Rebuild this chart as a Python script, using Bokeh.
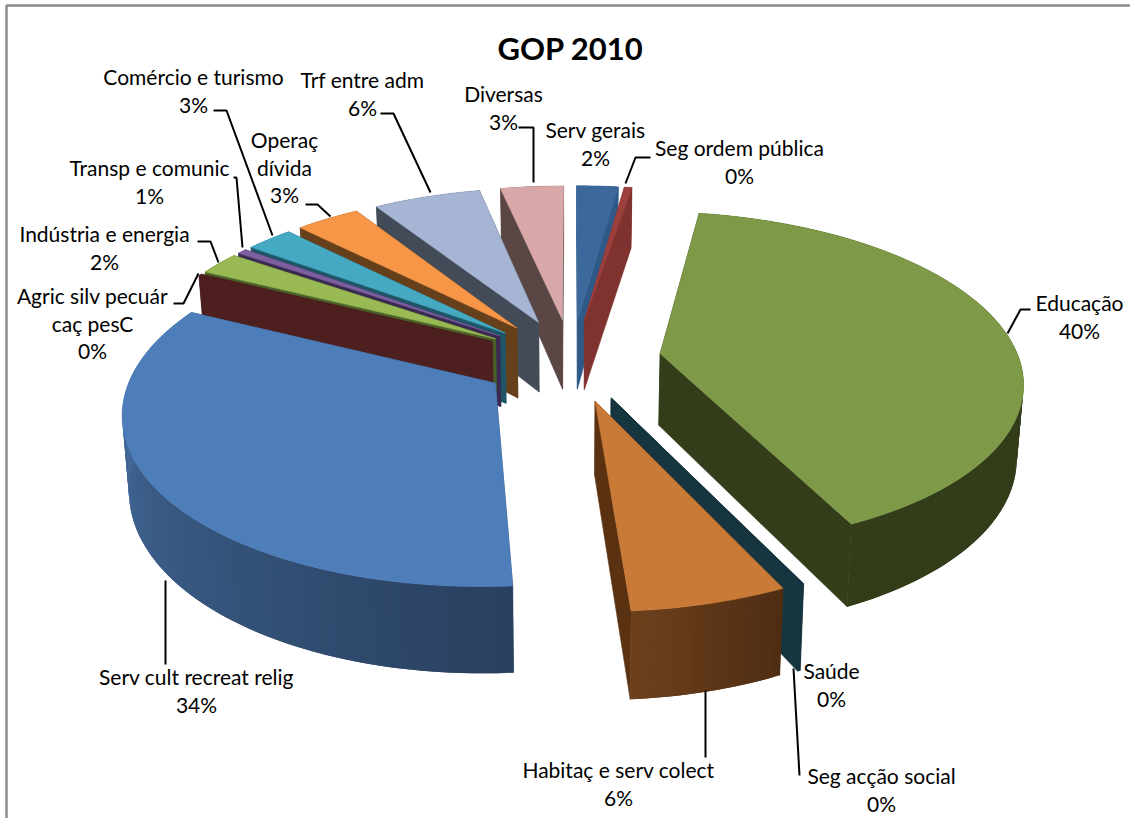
import math
from bokeh.plotting import figure
from bokeh.embed import file_html
from bokeh.resources import INLINE
from bokeh.core.properties import value

# ---------- data ----------
categories = ["Serv gerais", "Seg ordem pública", "Educação", "Saúde", "Seg acção social",
              "Habitaç e serv colect", "Serv cult recreat relig", "Agric silv pecuár caç pesC",
              "Indústria e energia", "Transp e comunic", "Comércio e turismo",
              "Operaç dívida", "Trf entre adm", "Diversas"]
values = [2.2, 0.4, 40.5, 0.05, 0.05, 5.85, 33.5, 0.2, 2.2, 0.5, 2.5, 3.4, 5.7, 3.35]
percent_labels = ["2%", "0%", "40%", "0%", "0%", "6%", "34%", "0%", "2%", "1%", "3%", "3%", "6%", "3%"]
title = "GOP 2010"

# ---------- styles ----------
top_colors = ["#3c689c", "#9c3f3d", "#7e9a48", "#17353f", "#17353f", "#c97a37", "#4e7eba",
              "#4d1f1e", "#98b954", "#7d5fa0", "#46a9c2", "#f79646", "#a5b5d3", "#d8a8a8"]
face_colors = ["#2f5a88", "#7f3230", "#333d1a", "#17353f", "#17353f", "#5a3212", "#2f4d75",
               "#4d1f1e", "#4b5f28", "#3a2a52", "#1f5566", "#65401a", "#434b58", "#5a4745"]
wall_start = ["#2f5a88", "#7f3230", "#333d1a", "#17353f", "#17353f", "#4f2d13", "#29405f",
              "#4d1f1e", "#4b5f28", "#3a2a52", "#1f5566", "#65401a", "#434b58", "#5a4745"]
wall_end = ["#2f5a88", "#7f3230", "#333d1a", "#17353f", "#17353f", "#6e411d", "#4b76ab",
            "#4d1f1e", "#4b5f28", "#3a2a52", "#1f5566", "#65401a", "#434b58", "#5a4745"]

X0, Y0 = 571, 359      # ground origin on screen
R = 359                # pie radius
E = 90                 # explosion of every slice
TILT = 165 / R         # vertical squash
K = 0.15 / R           # perspective strength
D = 72                 # wall height
LEAN = 0.015           # convergence of verticals
FONT = "Lato"
FS = "21px"


def project(x, y, bottom=False):
    s = 1 / (1 + K * y)
    if bottom:
        return X0 + x * s * (1 - LEAN), Y0 - y * TILT * s + D * s
    return X0 + x * s, Y0 - y * TILT * s


def mix(c1, c2, t):
    a = [int(c1[i:i + 2], 16) for i in (1, 3, 5)]
    b = [int(c2[i:i + 2], 16) for i in (1, 3, 5)]
    return "#%02x%02x%02x" % tuple(round(p + (q - p) * t) for p, q in zip(a, b))


total = sum(values)
cum = 0
slices = []
for i, v in enumerate(values):
    a0 = cum / total * 2 * math.pi
    cum += v
    a1 = cum / total * 2 * math.pi
    slices.append((i, a0, a1))
slices.sort(key=lambda s: -math.cos((s[1] + s[2]) / 2))

xs, ys, cols, widths = [], [], [], []


def add(q, c, w=0.6):
    xs.append([k[0] for k in q])
    ys.append([k[1] for k in q])
    cols.append(c)
    widths.append(w)


for i, a0, a1 in slices:
    mid = (a0 + a1) / 2
    cx, cy = E * math.sin(mid), E * math.cos(mid)
    n = max(2, int((a1 - a0) / math.radians(1.0)))
    ang = [a0 + (a1 - a0) * j / n for j in range(n + 1)]
    pts = [(cx + R * math.sin(a), cy + R * math.cos(a)) for a in ang]
    # radial faces
    for pt in (pts[0], pts[-1]):
        add([project(cx, cy), project(*pt), project(*pt, True), project(cx, cy, True)], face_colors[i])
    # outer wall, shaded along the arc; each strip overlaps the next to hide seams
    for j in range(n):
        e = min(j + 2, n)
        add([project(*pts[j]), project(*pts[e]), project(*pts[e], True), project(*pts[j], True)],
            mix(wall_start[i], wall_end[i], j / n), 0)
    # top
    add([project(cx, cy)] + [project(*pt) for pt in pts], top_colors[i])

p = figure(width=1130, height=818, x_range=(0, 1130), y_range=(818, 0), output_backend="svg",
           toolbar_location=None, min_border=0, background_fill_color="white", border_fill_color="white",
           outline_line_color=None, margin=0)
p.axis.visible = False
p.grid.visible = False

p.patches(xs, ys, fill_color=cols, line_color=cols, line_width=widths)

# frame
p.line([6, 6, 1130], [818, 5, 5], line_color="#8c8c8c", line_width=2.5)

# leaders
leaders_x = [[518, 533, 533], [650, 635, 625], [380, 393, 430], [213, 226, 272], [305, 317, 330],
             [233, 236, 242], [197, 210, 218], [173, 183, 198], [1030, 1020, 1007], [705, 705],
             [793, 799], [165, 165]]
leaders_y = [[127, 127, 182], [157, 157, 183], [113, 113, 192], [110, 110, 235], [204, 204, 216],
             [177, 177, 247], [241, 241, 262], [303, 303, 273], [309, 309, 333], [690, 757],
             [668, 775], [580, 664]]
p.multi_line(leaders_x, leaders_y, line_color="black", line_width=2)

# texts
lx = [595, 739, 1079, 831, 881, 618, 196, 92, 104, 149, 193, 284, 362, 503]
ly = [129, 147, 302, 670, 775, 769, 676, 295, 233, 167, 76, 139, 79, 93]
wrapped = {7: ["Agric silv pecuár", "caç pesC"], 11: ["Operaç", "dívida"]}
LH = 27.7
tx, ty, tt = [], [], []
for i, name in enumerate(categories):
    lines = wrapped.get(i, [name]) + [percent_labels[i]]
    for j, t in enumerate(lines):
        tx.append(lx[i]); ty.append(ly[i] + j * LH); tt.append(t)
p.text(tx, ty, text=tt, text_font=value(FONT), text_font_size=FS, text_color="black",
       text_align="center", text_baseline="middle")
p.text([570], [47], text=[title], text_font=value(FONT), text_font_size="31px",
       text_font_style="bold", text_color="black", text_align="center", text_baseline="middle")

open("out.html", "w").write(file_html(p, INLINE))
